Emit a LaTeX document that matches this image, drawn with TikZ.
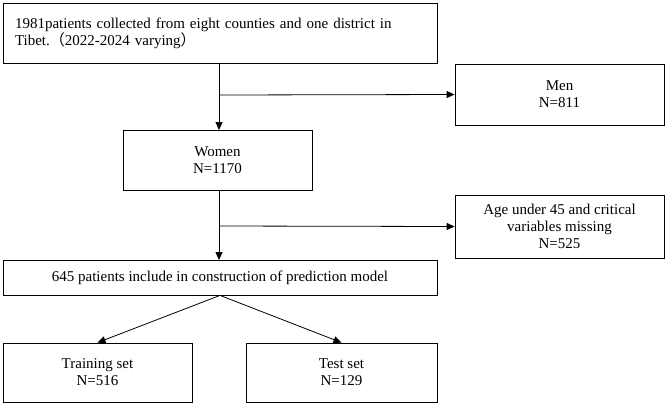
\documentclass[tikz,border=0pt]{standalone}
\usepackage{fontspec}
\setmainfont{Liberation Serif}
\newfontfamily\cjk{Noto Sans CJK SC}
\usetikzlibrary{arrows.meta}
\begin{document}
\begin{tikzpicture}[x=1pt,y=-1pt,
  box/.style={draw,line width=0.8pt,inner sep=0pt,align=center,font=\fontsize{15}{17}\selectfont},
  arr/.style={line width=0.8pt,-{Triangle[length=8pt,width=7pt]}},
  ln/.style={line width=0.8pt}]
\useasboundingbox (0,0) rectangle (669,405);
\node[box,minimum width=434,minimum height=60,align=left,text width=410] (top) at (220,33) {1981patients collected from eight counties and one district in\\Tibet.{\cjk （}2022-2024 varying{\cjk ）}};
\node[box,minimum width=209,minimum height=61] (men) at (559.5,94.5) {Men\\N=811};
\node[box,minimum width=189,minimum height=60] (women) at (217.5,160) {Women\\N=1170};
\node[box,minimum width=209,minimum height=63] (age) at (559.5,226.5) {Age under 45 and critical\\variables missing\\N=525};
\node[box,minimum width=434,minimum height=35] (all) at (220,277.5) {645 patients include in construction of prediction model};
\node[box,minimum width=189,minimum height=59] (train) at (97.5,372.5) {Training set\\N=516};
\node[box,minimum width=191,minimum height=59] (test) at (341.5,372.5) {Test set\\N=129};
\coordinate (b1) at (219,95);
\coordinate (b2) at (219,226);
\draw[arr] (219,63) -- (219,130);
\draw[arr] (b1) -- (men.west);
\draw[arr] (219,190) -- (219,260);
\draw[arr] (b2) -- (age.west);
\draw[arr] (all.south) -- (train.north);
\draw[arr] (all.south) -- (test.north);
\end{tikzpicture}
\end{document}
